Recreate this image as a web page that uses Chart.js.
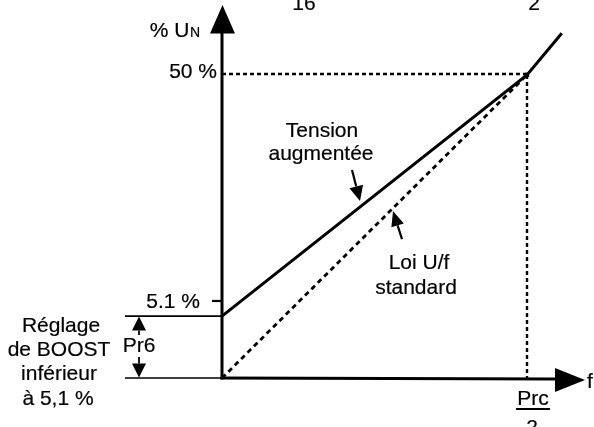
<!DOCTYPE html>
<html>
<head>
<meta charset="utf-8">
<script src="https://cdn.jsdelivr.net/npm/chart.js@4/dist/chart.umd.min.js"></script>
<style>
  html, body { margin: 0; padding: 0; background: #fff; }
  #wrap { width: 594px; height: 427px; }
</style>
</head>
<body>
<div id="wrap"><canvas id="c" width="594" height="427"></canvas></div>
<script>
// Frequency in units of Prc, voltage in % of UN
const freqBoost = [0, 0.5, 0.557];
const voltBoost = [4.1, 50, 58.3];
const freqStd = [0, 0.5];
const voltStd = [0, 50];
const pr6Level = 4.1;            // boost setting below 5.1 %
const yTickValues = [5.1, 50];
const yTickLabels = ['5.1 %', '50 %'];
const xTickValue = 0.5;          // Prc / 2
const xTickLabel = ['Prc', '2'];

const FONT = '"Liberation Sans", Arial, Helvetica, sans-serif';

// Linear scale whose band below a split value is stretched (schematic axis)
class SplitLinearScale extends Chart.LinearScale {
  static id = 'splitLinear';
  _dec(v) {
    const sv = this.options.splitValue, sf = this.options.splitFraction;
    if (v <= sv) return (v - this.min) / (sv - this.min) * sf;
    return sf + (v - sv) / (this.max - sv) * (1 - sf);
  }
  getPixelForValue(v) {
    if (v === null || isNaN(v)) return NaN;
    return this.getPixelForDecimal(this._dec(v));
  }
  getValueForPixel(p) {
    const d = this.getDecimalForPixel(p);
    const sv = this.options.splitValue, sf = this.options.splitFraction;
    if (d <= sf) return this.min + d / sf * (sv - this.min);
    return sv + (d - sf) / (1 - sf) * (this.max - sv);
  }
}
Chart.register(SplitLinearScale);

function text(ctx, s, x, y, align, size) {
  ctx.font = (size || 21) + 'px ' + FONT;
  ctx.textAlign = align || 'center';
  ctx.textBaseline = 'alphabetic';
  ctx.fillText(s, x, y);
  ctx.lineWidth = 0.2;
  ctx.strokeText(s, x, y);
}

function tri(ctx, ax, ay, bx, by, cx, cy) {
  ctx.beginPath();
  ctx.moveTo(ax, ay); ctx.lineTo(bx, by); ctx.lineTo(cx, cy);
  ctx.closePath();
  ctx.fill();
}

// Straight arrow with a filled head at (x2, y2)
function arrow(ctx, x1, y1, x2, y2, len, half, lw) {
  const a = Math.atan2(y2 - y1, x2 - x1);
  const bx = x2 - len * Math.cos(a), by = y2 - len * Math.sin(a);
  ctx.lineWidth = lw;
  ctx.beginPath(); ctx.moveTo(x1, y1); ctx.lineTo(bx, by); ctx.stroke();
  const nx = -Math.sin(a) * half, ny = Math.cos(a) * half;
  tri(ctx, x2, y2, bx + nx, by + ny, bx - nx, by - ny);
}

function lineY(xs, ys, fx, fy, x) {
  // pixel y of the straight segment (fx[0],fy[0])-(fx[1],fy[1]) at pixel x
  const x1 = xs.getPixelForValue(fx[0]), x2 = xs.getPixelForValue(fx[1]);
  const y1 = ys.getPixelForValue(fy[0]), y2 = ys.getPixelForValue(fy[1]);
  return y1 + (x - x1) / (x2 - x1) * (y2 - y1);
}

const diagram = {
  id: 'diagram',
  beforeDatasetsDraw(chart) {
    const { ctx, scales: { x: xs, y: ys } } = chart;
    const x0 = xs.getPixelForValue(0), y0 = ys.getPixelForValue(0);
    const xP = xs.getPixelForValue(xTickValue), y50 = ys.getPixelForValue(yTickValues[1]);
    ctx.save();
    ctx.strokeStyle = '#000';
    ctx.lineWidth = 2.4;
    ctx.setLineDash([4, 3]);
    ctx.beginPath();
    ctx.moveTo(x0, y50 - 1); ctx.lineTo(xP, y50 - 1);
    ctx.moveTo(xP, y50); ctx.lineTo(xP, y0);
    ctx.stroke();
    ctx.restore();
  },
  afterDatasetsDraw(chart) {
    const { ctx, chartArea, scales: { x: xs, y: ys } } = chart;
    const x0 = xs.getPixelForValue(0), y0 = ys.getPixelForValue(0);
    const xP = xs.getPixelForValue(xTickValue);
    const y51 = ys.getPixelForValue(yTickValues[0]);
    const y50 = ys.getPixelForValue(yTickValues[1]);
    const yPr6 = ys.getPixelForValue(pr6Level);
    ctx.save();
    ctx.strokeStyle = '#000';
    ctx.fillStyle = '#000';
    ctx.lineCap = 'butt';

    // vertical axis with arrow
    const top = chartArea.top;
    ctx.lineWidth = 3;
    ctx.beginPath(); ctx.moveTo(x0, y0 + 1.5); ctx.lineTo(x0, top + 27); ctx.stroke();
    tri(ctx, x0 + 0.5, top + 0.5, x0 - 12, top + 29, x0 + 13, top + 29);

    // horizontal axis with arrow
    const tip = chartArea.right - 3;
    ctx.beginPath(); ctx.moveTo(x0 - 1.5, y0); ctx.lineTo(tip - 28, y0 + 1); ctx.stroke();
    tri(ctx, tip, y0 + 2, tip - 30, y0 - 10, tip - 30, y0 + 14);
    text(ctx, 'f', tip + 2, y0 + 10, 'left');

    // axis titles and tick labels
    ctx.font = '14px ' + FONT;
    const wN = ctx.measureText('N').width;
    text(ctx, 'N', 200, top + 32.5, 'right', 14);
    text(ctx, '% U', 200 - wN - 0.5, top + 32.5, 'right');
    text(ctx, yTickLabels[1], x0 - 5, y50 + 3, 'right');
    text(ctx, yTickLabels[0], 200, y51 + 7, 'right');
    ctx.lineWidth = 2.2;
    ctx.beginPath(); ctx.moveTo(x0 - 10, y51); ctx.lineTo(x0, y51); ctx.stroke();

    // Prc / 2 label
    text(ctx, xTickLabel[0], xP + 6, y0 + 27);
    ctx.lineWidth = 2;
    ctx.beginPath(); ctx.moveTo(xP - 11, y0 + 31); ctx.lineTo(xP + 23, y0 + 31); ctx.stroke();
    text(ctx, xTickLabel[1], xP + 5, y0 + 56);

    // Pr6 bracket
    ctx.lineWidth = 1.6;
    ctx.beginPath();
    ctx.moveTo(125, yPr6); ctx.lineTo(x0, yPr6);
    ctx.moveTo(125, y0); ctx.lineTo(x0, y0);
    ctx.stroke();
    const xb = 139;
    arrow(ctx, xb, yPr6 + 19, xb, yPr6 + 0.5, 14, 7, 1.8);
    arrow(ctx, xb, y0 - 21, xb, y0 - 0.5, 14, 7, 1.8);
    text(ctx, 'Pr6', xb, yPr6 + 36);

    // left explanation
    text(ctx, 'Réglage', 61, 332);
    text(ctx, 'de BOOST', 59, 356);
    text(ctx, 'inférieur', 59, 380);
    text(ctx, 'à 5,1 %', 58, 405);

    // curve annotations
    text(ctx, 'Tension', 322, 137);
    text(ctx, 'augmentée', 321, 160);
    const ax1 = 360;
    const ay1 = lineY(xs, ys, [freqBoost[0], freqBoost[1]], [voltBoost[0], voltBoost[1]], ax1) - 6;
    arrow(ctx, ax1 - 8, ay1 - 31, ax1, ay1, 15, 7, 2.2);

    text(ctx, 'Loi U/f', 419, 269);
    text(ctx, 'standard', 416, 294);
    const ax2 = 393;
    const ay2 = lineY(xs, ys, freqStd, voltStd, ax2) + 3;
    arrow(ctx, ax2 + 9, ay2 + 28, ax2, ay2, 15, 6.5, 2.2);

    // fragments of the caption above
    text(ctx, '16', 304, 10);
    text(ctx, '2', 534, 10);
    ctx.restore();
  }
};

new Chart(document.getElementById('c'), {
  type: 'line',
  data: {
    datasets: [
      {
        data: freqStd.map((x, i) => ({ x, y: voltStd[i] })),
        borderColor: '#000', borderWidth: 2.8, borderDash: [5, 4],
        pointRadius: 0, fill: false, tension: 0
      },
      {
        data: freqBoost.map((x, i) => ({ x, y: voltBoost[i] })),
        borderColor: '#000', borderWidth: 3,
        pointRadius: [0, 3, 0], pointStyle: 'rect',
        pointBackgroundColor: '#000', pointBorderWidth: 0,
        fill: false, tension: 0
      }
    ]
  },
  options: {
    responsive: false,
    animation: false,
    devicePixelRatio: 1,
    layout: { padding: { left: 222, right: 6, top: 4.5, bottom: 49 } },
    plugins: { legend: { display: false }, tooltip: { enabled: false } },
    scales: {
      x: { type: 'linear', min: 0, max: 0.6, display: false },
      y: { type: 'splitLinear', min: 0, max: 64, splitValue: 5.1, splitFraction: 0.2062, display: false }
    }
  },
  plugins: [diagram]
});
</script>
</body>
</html>
